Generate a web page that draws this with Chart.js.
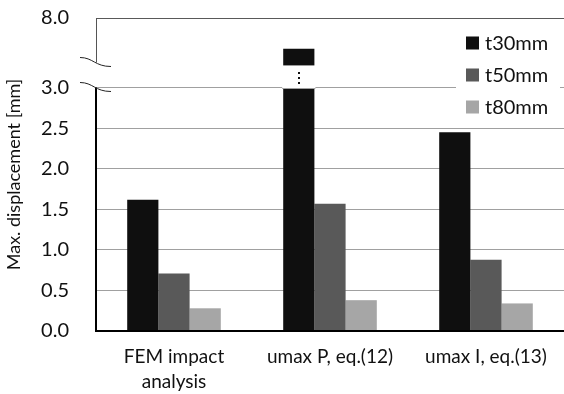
<!DOCTYPE html>
<html>
<head>
<meta charset="utf-8">
<script src="https://cdn.jsdelivr.net/npm/chart.js@4/dist/chart.umd.min.js"></script>
<style>
  html, body { margin: 0; padding: 0; background: #fff; }
  #wrap { width: 564px; height: 394px; }
</style>
</head>
<body>
<div id="wrap"><canvas id="chart" width="564" height="394"></canvas></div>
<script>
// Categories and measured maximum displacements [mm]
const categories = [['FEM impact', 'analysis'], 'umax P, eq.(12)', 'umax I, eq.(13)'];
const seriesNames = ['t30mm', 't50mm', 't80mm'];
const t30 = [1.62, 5.8, 2.45];
const t50 = [0.71, 1.57, 0.88];
const t80 = [0.28, 0.38, 0.34];
const yTickValues = [0.0, 0.5, 1.0, 1.5, 2.0, 2.5, 3.0, 8.0];

// Broken value axis: linear up to BREAK_AT, compressed above it up to AXIS_TOP
const BREAK_AT = 3.0;
const AXIS_TOP = 8.0;
const UPPER_SCALE = 0.172;
const BAR_GAP_TOP = 4.6;   // bars above the break are cut open up to this value

function toAxis(v) {
  return v <= BREAK_AT ? v : BREAK_AT + (v - BREAK_AT) * UPPER_SCALE;
}

const FONT = 'Lato';
const TEXT = '#111';
const colors = ['#0f0f0f', '#595959', '#a6a6a6'];

// Axis lines, break marks and cut bars drawn over the datasets
const brokenAxis = {
  id: 'brokenAxis',
  afterDatasetsDraw(chart) {
    const { ctx, chartArea: a, scales: { y } } = chart;
    const y3 = Math.round(y.getPixelForValue(BREAK_AT)) + 0.5;
    const yTop = a.top;
    const ax = Math.round(a.left);

    ctx.save();
    // gap in bars that run past the break
    chart.data.datasets.forEach((ds, di) => {
      const meta = chart.getDatasetMeta(di);
      meta.data.forEach((bar, i) => {
        const raw = ds.raw[i];
        if (raw <= BREAK_AT) return;
        const gTop = y.getPixelForValue(toAxis(BAR_GAP_TOP));
        const half = bar.width / 2;
        ctx.fillStyle = '#fff';
        ctx.fillRect(bar.x - half - 1, gTop, bar.width + 2, y3 - gTop);
        ctx.strokeStyle = '#a0a0a0';
        ctx.lineWidth = 1;
        ctx.beginPath();
        ctx.moveTo(bar.x - half - 1, y3);
        ctx.lineTo(bar.x + half + 1, y3);
        ctx.stroke();
        ctx.fillStyle = '#111';
        [17, 12, 7].forEach(off => ctx.fillRect(Math.round(bar.x) - 1, Math.round(y3 - off), 2, 2));
      });
    });

    // x axis
    ctx.strokeStyle = '#000';
    ctx.lineWidth = 2;
    ctx.beginPath();
    ctx.moveTo(ax - 1, a.bottom);
    ctx.lineTo(a.right, a.bottom);
    ctx.stroke();

    // y axis, lower section
    ctx.beginPath();
    ctx.moveTo(ax, a.bottom + 1);
    ctx.lineTo(ax, y3 - 1);
    ctx.stroke();

    // y axis, upper section
    const yUpperBreak = y3 - 26;
    ctx.strokeStyle = '#555';
    ctx.lineWidth = 1;
    ctx.beginPath();
    ctx.moveTo(ax + 0.5, yTop);
    ctx.lineTo(ax + 0.5, yUpperBreak);
    ctx.stroke();

    // break marks
    ctx.strokeStyle = '#222';
    ctx.lineWidth = 1;
    [yUpperBreak, y3 - 1].forEach(yc => {
      const x0 = ax - 16, x1 = ax + 15;
      const y0 = yc - 5, y1 = yc + 4;
      ctx.beginPath();
      ctx.moveTo(x0, y0);
      ctx.bezierCurveTo(x0 + 13, y0, x0 + 15, y1, x1, y1);
      ctx.stroke();
    });
    ctx.restore();
  }
};

// Legend box placed inside the plot area
const innerLegend = {
  id: 'innerLegend',
  afterDatasetsDraw(chart) {
    const { ctx } = chart;
    ctx.save();
    ctx.fillStyle = '#fff';
    ctx.fillRect(456, 26, 104, 96);
    ctx.font = `20px ${FONT}`;
    ctx.textBaseline = 'middle';
    ctx.textAlign = 'left';
    chart.data.datasets.forEach((ds, i) => {
      const cy = 43 + i * 32;
      ctx.fillStyle = ds.backgroundColor;
      ctx.fillRect(466, cy - 6.5, 13, 13);
      ctx.fillStyle = TEXT;
      ctx.fillText(ds.label, 485, cy + 1);
    });
    ctx.restore();
  }
};

const seriesValues = [t30, t50, t80];

new Chart(document.getElementById('chart'), {
  type: 'bar',
  data: {
    labels: categories,
    datasets: seriesNames.map((name, i) => ({
      label: name,
      raw: seriesValues[i],
      data: seriesValues[i].map(toAxis),
      backgroundColor: colors[i],
      borderWidth: 0,
      categoryPercentage: 0.6,
      barPercentage: 1.0
    }))
  },
  options: {
    responsive: false,
    animation: false,
    devicePixelRatio: 1,
    layout: { padding: { left: 0, top: 18, right: 0, bottom: 0 } },
    plugins: {
      legend: { display: false },
      tooltip: { enabled: false },
      title: { display: false }
    },
    scales: {
      x: {
        grid: { display: false, drawTicks: false },
        border: { display: false },
        ticks: {
          color: TEXT,
          padding: 14,
          maxRotation: 0,
          autoSkip: false,
          font: { family: FONT, size: 19, lineHeight: 1.3 }
        },
        afterFit(s) { s.height = 63; }
      },
      y: {
        min: 0,
        max: toAxis(AXIS_TOP),
        afterBuildTicks(s) {
          s.ticks = yTickValues.map(v => ({ value: toAxis(v) }));
        },
        afterFit(s) {
          s.width = 96;
          s.paddingTop = 0;
          s.paddingBottom = 0;
        },
        border: { display: false },
        grid: {
          drawTicks: false,
          lineWidth: 1,
          color(c) {
            if (c.index === 0) return 'rgba(0,0,0,0)';
            if (c.index === yTickValues.length - 1) return '#595959';
            return '#a0a0a0';
          }
        },
        ticks: {
          color: TEXT,
          padding: 27,
          font: { family: FONT, size: 20 },
          callback(value, index) { return yTickValues[index].toFixed(1); }
        },
        title: {
          display: true,
          text: 'Max. displacement [mm]',
          color: TEXT,
          padding: { top: 3, bottom: 0 },
          font: { family: FONT, size: 18, lineHeight: 1.2 }
        }
      }
    }
  },
  plugins: [brokenAxis, innerLegend]
});
</script>
</body>
</html>
